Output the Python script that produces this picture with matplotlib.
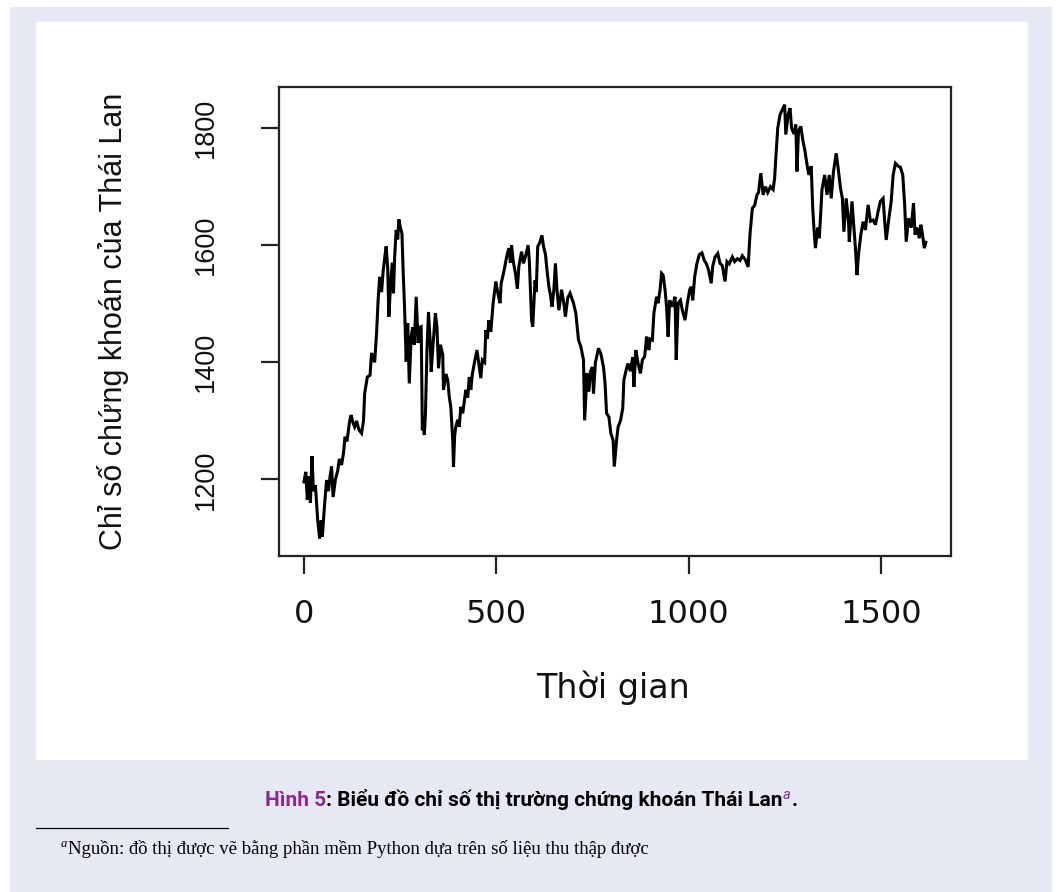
import matplotlib
matplotlib.use('Agg')
import matplotlib.pyplot as plt
from matplotlib.patches import Rectangle
from matplotlib.lines import Line2D

# ---------------- data ----------------
time_idx = [0, 5, 9, 13, 17, 21, 25, 30, 36, 41, 45, 48, 53, 59, 64, 68, 72, 76, 82, 88,
            92, 98, 103, 107, 112, 119, 123, 127, 132, 137, 143, 150, 155, 158, 165, 172, 176, 184, 189, 193,
            197, 202, 206, 210, 214, 218, 221, 226, 230, 233, 236, 240, 244, 247, 251, 255, 258, 262, 266, 270,
            274, 279, 283, 287, 292, 297, 301, 305, 308, 311, 313, 316, 320, 324, 328, 331, 336, 342, 346, 350,
            355, 361, 363, 369, 374, 378, 382, 387, 389, 392, 395, 400, 404, 408, 413, 421, 426, 430, 434, 438,
            443, 450, 456, 460, 464, 470, 473, 477, 481, 486, 492, 499, 504, 510, 513, 520, 527, 533, 537, 540,
            544, 550, 555, 559, 566, 571, 577, 583, 586, 592, 595, 601, 604, 608, 613, 619, 623, 628, 632, 637,
            641, 645, 650, 654, 658, 663, 670, 676, 680, 686, 692, 701, 707, 714, 720, 727, 730, 736, 741, 745,
            750, 753, 758, 766, 772, 779, 783, 787, 793, 798, 804, 807, 813, 817, 823, 829, 832, 839, 843, 849,
            855, 858, 863, 869, 875, 880, 886, 891, 897, 900, 906, 910, 917, 921, 926, 930, 934, 939, 943, 947,
            951, 958, 965, 968, 973, 979, 984, 991, 997, 1003, 1007, 1011, 1016, 1022, 1028, 1035, 1041, 1046, 1052, 1059,
            1063, 1069, 1076, 1082, 1088, 1095, 1100, 1106, 1114, 1120, 1127, 1134, 1140, 1148, 1155, 1160, 1166, 1172, 1178, 1182,
            1188, 1194, 1200, 1206, 1213, 1220, 1224, 1227, 1232, 1238, 1243, 1250, 1253, 1259, 1264, 1268, 1274, 1279, 1282, 1286,
            1292, 1297, 1303, 1308, 1313, 1319, 1323, 1326, 1330, 1336, 1340, 1343, 1347, 1354, 1360, 1366, 1371, 1377, 1384, 1389,
            1395, 1400, 1404, 1410, 1416, 1418, 1425, 1430, 1434, 1438, 1442, 1448, 1454, 1460, 1467, 1473, 1480, 1486, 1493, 1499,
            1506, 1510, 1514, 1520, 1527, 1532, 1538, 1545, 1551, 1557, 1562, 1566, 1572, 1579, 1585, 1589, 1594, 1600, 1604, 1608,
            1613, 1617]
index_values = [1196, 1213, 1165, 1205, 1160, 1240, 1180, 1190, 1130, 1099, 1130, 1102, 1150, 1199, 1180, 1205, 1222, 1170, 1200, 1215,
                1235, 1225, 1245, 1273, 1265, 1300, 1310, 1298, 1290, 1300, 1285, 1279, 1300, 1347, 1375, 1378, 1416, 1400, 1450, 1506,
                1546, 1520, 1555, 1578, 1598, 1560, 1478, 1540, 1570, 1518, 1580, 1626, 1610, 1644, 1630, 1620, 1558, 1489, 1401, 1467,
                1364, 1445, 1460, 1430, 1512, 1433, 1460, 1461, 1284, 1300, 1276, 1310, 1421, 1486, 1440, 1384, 1432, 1484, 1460, 1390,
                1430, 1413, 1353, 1380, 1370, 1341, 1324, 1267, 1222, 1275, 1290, 1302, 1290, 1324, 1313, 1353, 1340, 1375, 1353, 1380,
                1398, 1421, 1392, 1373, 1404, 1400, 1455, 1440, 1472, 1452, 1501, 1538, 1519, 1501, 1535, 1555, 1580, 1595, 1570, 1600,
                1574, 1552, 1526, 1564, 1589, 1569, 1583, 1600, 1575, 1472, 1461, 1540, 1520, 1598, 1604, 1617, 1598, 1585, 1558, 1529,
                1515, 1495, 1524, 1569, 1524, 1489, 1524, 1500, 1478, 1510, 1518, 1501, 1484, 1438, 1427, 1404, 1301, 1381, 1350, 1384,
                1392, 1347, 1400, 1424, 1415, 1392, 1364, 1313, 1307, 1279, 1267, 1222, 1267, 1290, 1300, 1321, 1370, 1390, 1398, 1385,
                1409, 1358, 1421, 1398, 1381, 1404, 1410, 1444, 1421, 1440, 1438, 1484, 1512, 1501, 1524, 1552, 1549, 1524, 1495, 1444,
                1506, 1495, 1512, 1404, 1501, 1506, 1489, 1472, 1501, 1524, 1529, 1506, 1546, 1569, 1584, 1587, 1574, 1569, 1558, 1535,
                1564, 1580, 1586, 1569, 1565, 1538, 1572, 1568, 1580, 1572, 1577, 1574, 1582, 1575, 1563, 1620, 1663, 1668, 1686, 1690,
                1723, 1686, 1700, 1690, 1700, 1695, 1715, 1749, 1800, 1823, 1830, 1840, 1789, 1823, 1834, 1800, 1790, 1806, 1726, 1795,
                1803, 1780, 1760, 1738, 1720, 1735, 1663, 1630, 1595, 1630, 1612, 1646, 1695, 1720, 1686, 1720, 1680, 1726, 1757, 1732,
                1698, 1680, 1623, 1680, 1641, 1606, 1675, 1630, 1595, 1549, 1584, 1618, 1640, 1626, 1669, 1641, 1643, 1635, 1658, 1675,
                1680, 1641, 1609, 1641, 1675, 1720, 1740, 1735, 1733, 1720, 1669, 1606, 1646, 1630, 1672, 1618, 1630, 1612, 1635, 1620,
                1595, 1605]
x_ticks = [0, 500, 1000, 1500]
y_ticks = [1200, 1400, 1600, 1800]
x_label = "Thời gian"
y_label = "Chỉ số chứng khoán của Thái Lan"
caption_num = "Hình 5"
caption_body = ": Biểu đồ chỉ số thị trường chứng khoán Thái Lan"
caption_sup = "a"
caption_end = "."
foot_sup = "a"
foot_text = "Nguồn: đồ thị được vẽ bằng phần mềm Python dựa trên số liệu thu thập được"

# ---------------- figure ----------------
W, H = 1058, 892
fig = plt.figure(figsize=(W / 100, H / 100), dpi=100)
fig.patch.set_facecolor('white')


def fx(px):
    return px / W


def fy(py):
    return 1 - py / H


lav = '#e6e9f4'
fig.patches.append(Rectangle((fx(10), fy(892)), fx(1052) - fx(10), fy(7) - fy(892),
                             transform=fig.transFigure, facecolor=lav, edgecolor='none', zorder=-3))
fig.patches.append(Rectangle((fx(36), fy(760)), fx(1028) - fx(36), fy(22) - fy(760),
                             transform=fig.transFigure, facecolor='white', edgecolor='none', zorder=-2))

sans = ['Liberation Sans', 'DejaVu Sans']
wide = ['DejaVu Sans']
ax = fig.add_axes([fx(279), fy(556), fx(950.7) - fx(279), fy(87.3) - fy(556)])
ax.set_zorder(1)
ax.set_facecolor('white')
ax.plot(time_idx, index_values, color='black', lw=2.2, solid_joinstyle='miter')
xr = max(time_idx) - min(time_idx)
ax.set_xlim(min(time_idx) - 0.04 * xr, max(time_idx) + 0.04 * xr)
yr = max(index_values) - min(index_values)
ax.set_ylim(min(index_values) - 0.04 * yr, max(index_values) + 0.04 * yr)
ax.set_xticks(x_ticks)
ax.set_yticks(y_ticks)
ax.set_xticklabels([str(v) for v in x_ticks], family=wide, fontsize=23)
ax.set_yticklabels([str(v) for v in y_ticks], family=sans, fontsize=19.5, rotation=90, va='center')
ax.tick_params(direction='out', length=13, width=1.6, color='#222222', labelcolor='#111111')
ax.tick_params(axis='x', pad=18)
ax.tick_params(axis='y', pad=30)
for s in ax.spines.values():
    s.set_linewidth(1.6)
    s.set_color('#222222')

fig.text(fx(612.5), fy(698), x_label, ha='center', va='baseline', fontsize=24,
         family=wide, color='#111111')
fig.text(fx(113), fy(321.5), y_label, ha='center', va='center', rotation=90, fontsize=22,
         family=sans, color='#111111')

# ---------------- caption ----------------
fig.canvas.draw()
rend = fig.canvas.get_renderer()
purple = '#8e2590'
cap_font = ['Roboto', 'DejaVu Sans']
pieces = [(caption_num, purple, 'normal', 0, 15),
          (caption_body, 'black', 'normal', 0, 15),
          (caption_sup, purple, 'italic', 7, 10.5),
          (caption_end, 'black', 'normal', 0, 15)]
widths = []
for txt, col, sty, dy, fs in pieces:
    t = fig.text(0, 0, txt, fontsize=fs, fontweight='bold' if sty == 'normal' else 'normal',
                 style=sty, family=cap_font)
    widths.append(t.get_window_extent(rend).width)
    t.remove()
x = 531 - sum(widths) / 2
base = 806
for (txt, col, sty, dy, fs), w in zip(pieces, widths):
    fig.text(fx(x), fy(base - dy), txt, fontsize=fs, color=col,
             fontweight='bold' if sty == 'normal' else 'normal', style=sty,
             family=cap_font, ha='left', va='baseline')
    x += w + (1 if sty == 'italic' else 0)

# ---------------- footnote ----------------
fig.add_artist(Line2D([fx(36), fx(228)], [fy(828), fy(828)], transform=fig.transFigure,
                      color='black', lw=0.9))
serif = ['Liberation Serif', 'DejaVu Serif']
fig.text(fx(61), fy(847), foot_sup, fontsize=9, style='italic', family=serif,
         ha='left', va='baseline')
fig.text(fx(68), fy(854), foot_text, fontsize=13.5, family=serif, ha='left', va='baseline')

fig.savefig('out.png', dpi=100, facecolor=fig.get_facecolor())
